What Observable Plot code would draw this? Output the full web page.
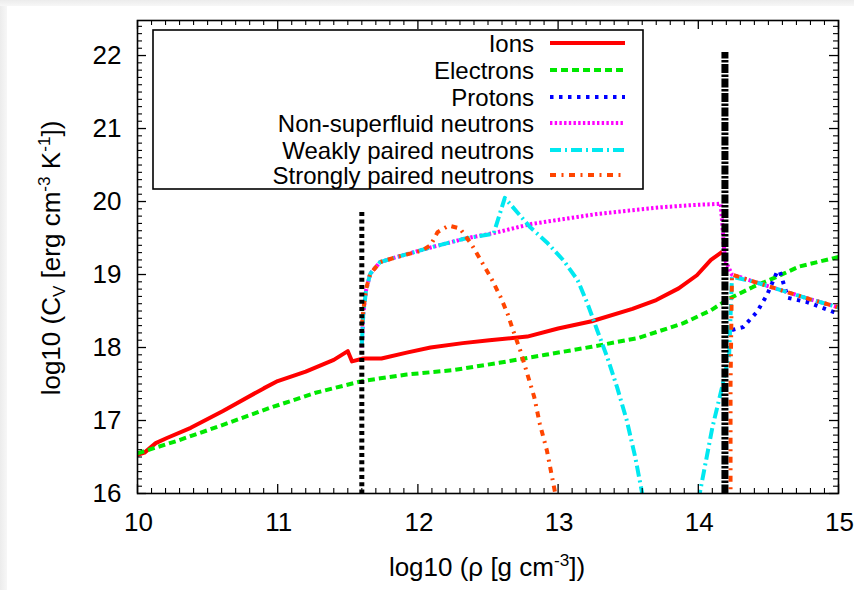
<!DOCTYPE html>
<html><head><meta charset="utf-8">
<script src="https://cdn.jsdelivr.net/npm/d3@7"></script>
<script src="https://cdn.jsdelivr.net/npm/@observablehq/plot@0.6"></script>
<style>
body{margin:0;background:#fff;}
#wrap{position:relative;width:854px;height:590px;overflow:hidden;background:#fff;font-family:"Liberation Sans",Arial,sans-serif;}
#sl{position:absolute;left:0;top:0;width:7px;height:590px;background:linear-gradient(to right,#ececec,#f7f7f7);}
#st{position:absolute;left:0;top:0;width:854px;height:6px;background:linear-gradient(to bottom,#ececec,#f7f7f7);}
#wrap svg{position:absolute;left:0;top:0;}
</style></head><body><div id="wrap"><div id="sl"></div><div id="st"></div></div>
<script>
// ---- data ----
const ionsX = [10, 10.05, 10.13, 10.21, 10.38, 10.61, 10.9, 11.0, 11.2, 11.4, 11.5, 11.53, 11.61, 11.74, 11.92, 12.09, 12.32, 12.51, 12.78, 13.0, 13.24, 13.53, 13.7, 13.86, 13.99, 14.09, 14.17];
const ionsY = [16.53, 16.56, 16.69, 16.76, 16.9, 17.13, 17.44, 17.54, 17.67, 17.83, 17.95, 17.81, 17.85, 17.85, 17.93, 18.0, 18.06, 18.1, 18.15, 18.26, 18.36, 18.53, 18.65, 18.81, 18.99, 19.2, 19.31];

const elecX = [10, 10.28, 10.61, 10.94, 11.27, 11.6, 11.92, 12.25, 12.58, 12.91, 13.24, 13.57, 13.89, 14.09, 14.22, 14.39, 14.55, 14.72, 15.0];
const elecY = [16.55, 16.72, 16.94, 17.17, 17.38, 17.54, 17.63, 17.69, 17.79, 17.9, 18.01, 18.13, 18.33, 18.51, 18.67, 18.83, 18.96, 19.11, 19.24];

const protX = [14.24, 14.32, 14.42, 14.49, 14.56, 14.58, 14.64, 14.78, 14.96, 15.0];
const protY = [18.24, 18.28, 18.49, 18.72, 19.03, 19.05, 18.68, 18.62, 18.49, 18.47];

const nsfX = [11.6, 11.61, 11.63, 11.66, 11.73, 11.85, 12.09, 12.33, 12.57, 12.8, 13.04, 13.28, 13.52, 13.73, 13.95, 14.16, 14.19, 14.24, 14.4, 14.6, 14.8, 15.0];
const nsfY = [18.0, 18.45, 18.78, 19.01, 19.17, 19.24, 19.37, 19.49, 19.58, 19.69, 19.76, 19.83, 19.88, 19.92, 19.95, 19.97, 19.2, 19.0, 18.9, 18.78, 18.66, 18.55];

const weakX = [11.6, 11.61, 11.63, 11.66, 11.73, 11.85, 12.09, 12.33, 12.54, 12.62, 12.71, 12.8, 12.92, 13.04, 13.14, 13.21, 13.28, 13.35, 13.42, 13.49, 13.55, 13.61, 13.62, 14.0, 14.1, 14.17, 14.22, 14.24, 14.4, 14.6, 14.8, 15.0];
const weakY = [18.05, 18.45, 18.78, 19.01, 19.17, 19.24, 19.37, 19.49, 19.56, 20.05, 19.85, 19.65, 19.44, 19.19, 18.92, 18.6, 18.23, 17.87, 17.46, 17.0, 16.5, 15.9, null, 15.9, 16.9, 17.46, 17.9, 18.97, 18.9, 18.78, 18.66, 18.55];

const strongX = [11.6, 11.61, 11.63, 11.66, 11.73, 11.85, 12.03, 12.09, 12.14, 12.22, 12.3, 12.38, 12.45, 12.52, 12.59, 12.64, 12.68, 12.73, 12.78, 12.83, 12.87, 12.92, 12.99, 13.0, 14.23, 14.23, 14.24, 14.4, 14.6, 14.8, 15.0];
const strongY = [18.3, 18.5, 18.8, 19.01, 19.17, 19.24, 19.33, 19.4, 19.58, 19.67, 19.63, 19.42, 19.19, 18.96, 18.69, 18.46, 18.23, 17.96, 17.64, 17.32, 16.95, 16.59, 15.9, null, 15.9, 17.5, 19.0, 18.9, 18.78, 18.66, 18.55];

const crustX = [11.6, 11.6];
const crustY = [16, 19.88];
const coreX = [14.19, 14.19];
const coreY = [16, 22.05];

const names = ["Ions", "Electrons", "Protons", "Non-superfluid neutrons", "Weakly paired neutrons", "Strongly paired neutrons"];
const colors = ["#ff0000", "#00e800", "#0000ff", "#ff00ff", "#00e8f0", "#ff4500"];
const xTicks = [10, 11, 12, 13, 14, 15];
const yTicks = [16, 17, 18, 19, 20, 21, 22];

// ---- styles ----
const dashes = [null, "7,4", "3.5,5.5", "2.4,2.3", "11,4,2,4", "6,5.5,2,5.5"];
const widths = [4, 4, 4, 4, 4, 4];

const xs = [ionsX, elecX, protX, nsfX, weakX, strongX];
const ys = [ionsY, elecY, protY, nsfY, weakY, strongY];
const series = names.map((n, k) => xs[k].map((x, i) => ({name: n, x, y: ys[k][i]})));
const boundary1 = crustX.map((x, i) => ({x, y: crustY[i]}));
const boundary2 = coreX.map((x, i) => ({x, y: coreY[i]}));

const W = 854, H = 590, mL = 137, mR = 16, mT = 20, mB = 97;
const innerW = W - mL - mR, innerH = H - mT - mB;
const minorX = d3.range(100, 151).map(v => v / 10).filter(v => !xTicks.includes(v));
const minorY = d3.range(160, 225).map(v => v / 10).filter(v => !yTicks.includes(v));
const FONT = 26, LFONT = 24;

const marks = [];
series.forEach((d, k) => {
  marks.push(Plot.line(d, {x: "x", y: "y", stroke: colors[k], strokeWidth: widths[k],
    strokeDasharray: dashes[k], strokeLinejoin: "round", strokeLinecap: "butt", clip: true}));
});
marks.push(Plot.line(boundary1, {x: "x", y: "y", stroke: "black", strokeWidth: 5, strokeDasharray: "4,3.3", strokeLinecap: "butt"}));
marks.push(Plot.line(boundary2, {x: "x", y: "y", stroke: "black", strokeWidth: 7, strokeDasharray: "9,1.5,2.5,1.5", strokeLinecap: "butt"}));
// inward ticks on all four sides
marks.push(Plot.ruleX(xTicks, {stroke: "black", strokeWidth: 1.3, insetTop: innerH - 9}));
marks.push(Plot.ruleX(xTicks, {stroke: "black", strokeWidth: 1.3, insetBottom: innerH - 9}));
marks.push(Plot.ruleX(minorX, {stroke: "black", strokeWidth: 1.1, insetTop: innerH - 5}));
marks.push(Plot.ruleX(minorX, {stroke: "black", strokeWidth: 1.1, insetBottom: innerH - 5}));
marks.push(Plot.ruleY(yTicks, {stroke: "black", strokeWidth: 1.3, insetRight: innerW - 9}));
marks.push(Plot.ruleY(yTicks, {stroke: "black", strokeWidth: 1.3, insetLeft: innerW - 9}));
marks.push(Plot.ruleY(minorY, {stroke: "black", strokeWidth: 1.1, insetRight: innerW - 5}));
marks.push(Plot.ruleY(minorY, {stroke: "black", strokeWidth: 1.1, insetLeft: innerW - 5}));
marks.push(Plot.frame({stroke: "black", strokeWidth: 1.6}));
marks.push(Plot.axisX(xTicks, {anchor: "bottom", tickSize: 0, tickPadding: 19, dx: 1, label: null, fontSize: FONT, tickFormat: d3.format("d")}));
marks.push(Plot.axisY(yTicks, {anchor: "left", tickSize: 0, tickPadding: 16, label: null, fontSize: FONT, tickFormat: d3.format("d")}));

const plot = Plot.plot({
  width: W, height: H, marginLeft: mL, marginRight: mR, marginTop: mT, marginBottom: mB,
  x: {domain: [10, 15]},
  y: {domain: [16, 22.48]},
  style: {fontFamily: "Liberation Sans, Arial, sans-serif", fontSize: FONT + "px", background: "transparent", color: "#000"},
  marks
});
document.getElementById("wrap").appendChild(plot);

// ---- axis titles with sub/superscripts ----
const svg = d3.select(plot);
const SUP = FONT * 0.66;
const xl = svg.append("text").attr("x", 487).attr("y", 576).attr("text-anchor", "middle")
  .attr("font-size", FONT).attr("fill", "#000");
xl.append("tspan").text("log10 (ρ [g cm");
xl.append("tspan").attr("dy", -10).attr("font-size", SUP).text("-3");
xl.append("tspan").attr("dy", 10).text("])");

const yl = svg.append("text").attr("transform", "translate(60,258) rotate(-90)").attr("text-anchor", "middle")
  .attr("font-size", FONT).attr("fill", "#000");
yl.append("tspan").text("log10 (C");
yl.append("tspan").attr("dy", 5).attr("font-size", SUP).text("V");
yl.append("tspan").attr("dy", -5).text(" [erg cm");
yl.append("tspan").attr("dy", -10).attr("font-size", SUP).text("-3");
yl.append("tspan").attr("dy", 10).text(" K");
yl.append("tspan").attr("dy", -10).attr("font-size", SUP).text("-1");
yl.append("tspan").attr("dy", 10).text("])");

// ---- legend (inside the frame, top-left) ----
const lg = svg.append("g");
lg.append("rect").attr("x", 153).attr("y", 30).attr("width", 490).attr("height", 159)
  .attr("fill", "white").attr("stroke", "black").attr("stroke-width", 1.6);
const rowY = [43, 70, 97, 123, 150, 175];
names.forEach((n, k) => {
  lg.append("text").attr("x", 534).attr("y", rowY[k]).attr("dy", "0.36em").attr("text-anchor", "end")
    .attr("font-size", LFONT).attr("fill", "#000").text(n);
  lg.append("line").attr("x1", 550).attr("x2", 625).attr("y1", rowY[k]).attr("y2", rowY[k])
    .attr("stroke", colors[k]).attr("stroke-width", widths[k]).attr("stroke-dasharray", dashes[k]);
});
// legend drawn beneath the data curves, as gnuplot does
const firstLine = plot.querySelector("g[aria-label='line']");
if (firstLine) plot.insertBefore(lg.node(), firstLine);
</script>
</body></html>
